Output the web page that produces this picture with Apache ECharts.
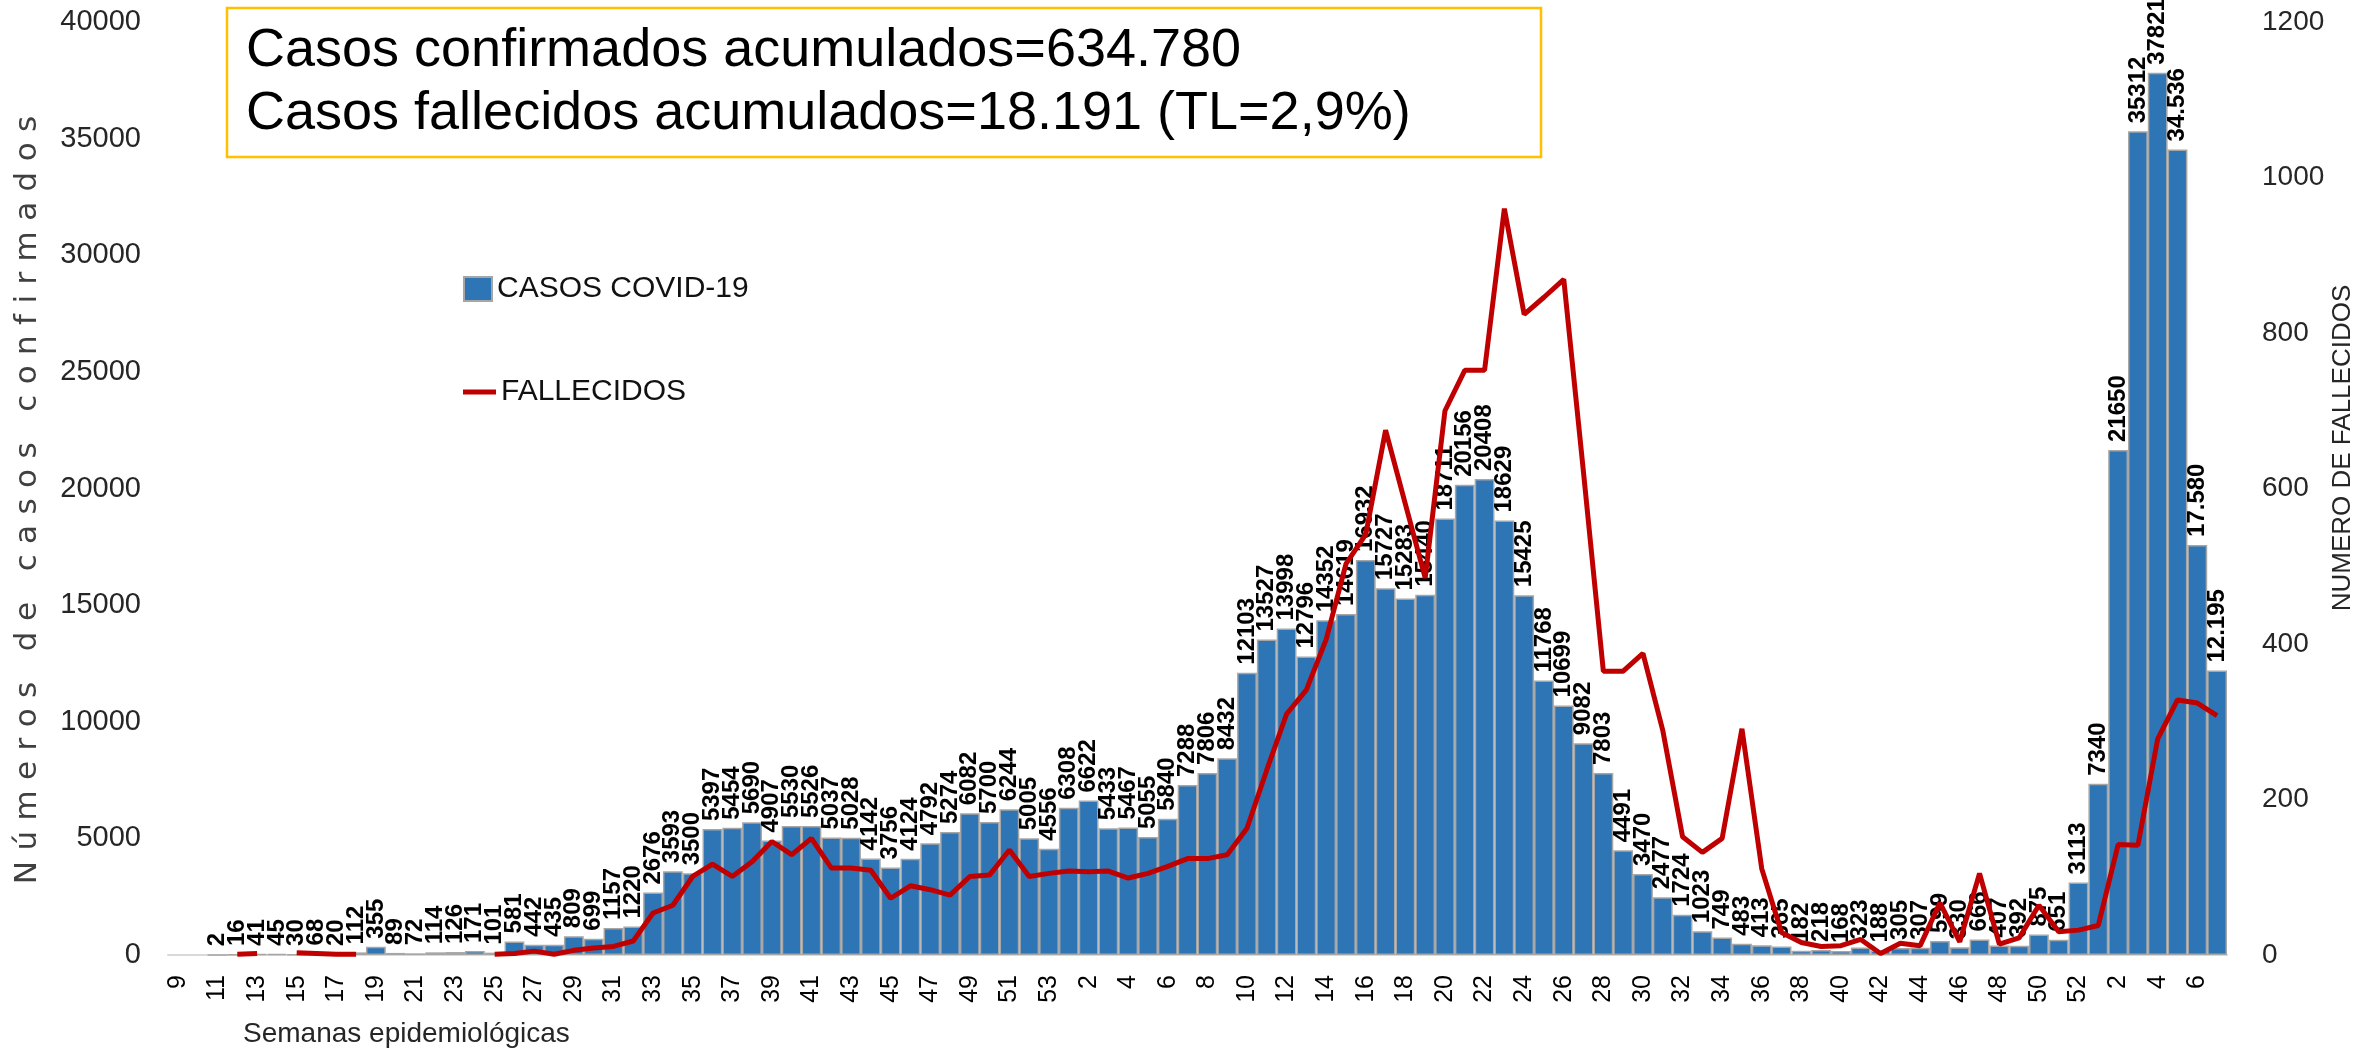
<!DOCTYPE html>
<html>
<head>
<meta charset="utf-8">
<script src="https://cdn.jsdelivr.net/npm/echarts@6/dist/echarts.min.js"></script>
<style>
  html, body { margin: 0; padding: 0; background: #fff; }
  #chart { width: 2362px; height: 1050px; }
</style>
</head>
<body>
<div id="chart"></div>
<script>
// semanas epidemiológicas: 2020 (9-53), 2021 (1-52), 2022 (1-7)
const weeks = [
  '9', '10', '11', '12', '13', '14', '15', '16', '17', '18', '19', '20', '21', '22', '23', '24', '25', '26', '27', '28',
  '29', '30', '31', '32', '33', '34', '35', '36', '37', '38', '39', '40', '41', '42', '43', '44', '45', '46', '47', '48',
  '49', '50', '51', '52', '53',
  '1', '2', '3', '4', '5', '6', '7', '8', '9', '10', '11', '12', '13', '14', '15', '16', '17', '18', '19', '20',
  '21', '22', '23', '24', '25', '26', '27', '28', '29', '30', '31', '32', '33', '34', '35', '36', '37', '38', '39', '40',
  '41', '42', '43', '44', '45', '46', '47', '48', '49', '50', '51', '52',
  '1', '2', '3', '4', '5', '6', '7'
]

const cases = [
  null, null, 2, 16, 41, 45, 30, 68, 20, 112, 355, 89, 72, 114, 126, 171, 101, 581, 442, 435,
  809, 699, 1157, 1220, 2676, 3593, 3500, 5397, 5454, 5690, 4907, 5530, 5526, 5037, 5028, 4142, 3756, 4124, 4792, 5274,
  6082, 5700, 6244, 5005, 4556,
  6308, 6622, 5433, 5467, 5055, 5840, 7288, 7806, 8432, 12103, 13527, 13998, 12796, 14352, 14619, 16932, 15727, 15283, 15440, 18711,
  20156, 20408, 18629, 15425, 11768, 10699, 9082, 7803, 4491, 3470, 2477, 1724, 1023, 749, 483, 413, 365, 182, 218, 168,
  323, 188, 305, 307, 599, 330, 666, 407, 392, 875, 651, 3113,
  7340, 21650, 35312, 37821, 34536, 17580, 12195
]

const deaths = [
  null, null, null, 1, 2, null, 3, 2, 1, 1, null, null, null, null, null, null, 1, 2, 5, 1,
  6, 9, 11, 18, 54, 64, 101, 117, 101, 120, 146, 129, 150, 112, 112, 109, 73, 89, 84, 77,
  101, 103, 135, 101, 105,
  108, 107, 108, 99, 105, 114, 124, 124, 129, 163, 238, 310, 341, 406, 503, 541, 675, 580, 485, 700,
  752, 752, 960, 824, 846, 869, 620, 365, 365, 388, 289, 152, 132, 150, 291, 111, 29, 16, 11, 12,
  20, 2, 15, 12, 67, 17, 105, 14, 22, 64, 30, 32,
  38, 142, 141, 278, 328, 324, 308
]

const summary = ['Casos confirmados acumulados=634.780', 'Casos fallecidos acumulados=18.191 (TL=2,9%)']
const dottedFrom = 101 // last labels are written with a thousands dot

const FONT = '"Liberation Sans", Arial, sans-serif'
const leftName = 'Números de casos confirmados'
const leftNameRich = leftName.split('').map(c => '{s|' + c + '}').join('')

const chart = echarts.init(document.getElementById('chart'))

chart.setOption({
  animation: false,
  backgroundColor: '#fff',
  textStyle: { fontFamily: FONT },
  grid: { left: 168, right: 135, top: 22, bottom: 95 },
  legend: [
    {
      left: 458, top: 269, itemWidth: 28, itemHeight: 24,
      textStyle: { fontSize: 30, color: '#111', fontFamily: FONT },
      data: [{ name: 'CASOS COVID-19', icon: 'rect' }]
    },
    {
      left: 458, top: 372, itemWidth: 33, itemHeight: 5,
      textStyle: { fontSize: 30, color: '#111', fontFamily: FONT },
      data: [{ name: 'FALLECIDOS', icon: 'rect' }]
    }
  ],
  xAxis: {
    type: 'category', data: weeks,
    axisLine: { lineStyle: { color: '#D9D9D9', width: 2 } },
    axisTick: { show: false },
    axisLabel: { interval: 1, rotate: 90, fontSize: 25, color: '#000', margin: 20 }
  },
  yAxis: [
    {
      type: 'value', min: 0, max: 40000, interval: 5000,
      splitLine: { show: false }, axisLine: { show: false }, axisTick: { show: false },
      axisLabel: { fontSize: 29, color: '#262626', margin: 27, formatter: v => String(v) }
    },
    {
      type: 'value', min: 0, max: 1200, interval: 200, position: 'right',
      splitLine: { show: false }, axisLine: { show: false }, axisTick: { show: false },
      axisLabel: { fontSize: 28, color: '#262626', margin: 35, formatter: v => String(v) }
    }
  ],
  series: [
    {
      name: 'CASOS COVID-19', type: 'bar', data: cases, barCategoryGap: '0%',
      itemStyle: { color: '#2E75B6', borderColor: '#A6A6A6', borderWidth: 1.5 },
      label: {
        show: true, position: 'top', rotate: 90, align: 'left', verticalAlign: 'middle',
        distance: 8, fontSize: 24, fontWeight: 'bold', color: '#000', fontFamily: FONT,
        formatter: p => p.dataIndex >= dottedFrom
          ? String(p.value).replace(/\B(?=(\d{3})+(?!\d))/g, '.')
          : String(p.value)
      }
    },
    {
      name: 'FALLECIDOS', type: 'line', yAxisIndex: 1, data: deaths,
      symbol: 'none', lineStyle: { color: '#C00000', width: 5 }, itemStyle: { color: '#C00000' }
    }
  ],
  graphic: [
    {
      type: 'rect', shape: { x: 227, y: 8, width: 1314, height: 149 },
      style: { fill: 'none', stroke: '#FFC000', lineWidth: 2.5 }, z: 10
    },
    {
      type: 'text', x: 246, y: 51, z: 10,
      style: { text: summary[0], fontSize: 54, fontFamily: FONT, fill: '#000', verticalAlign: 'middle' }
    },
    {
      type: 'text', x: 246, y: 114, z: 10,
      style: { text: summary[1], fontSize: 54, fontFamily: FONT, fill: '#000', verticalAlign: 'middle' }
    },
    {
      type: 'text', x: 243, y: 1034,
      style: { text: 'Semanas epidemiológicas', fontSize: 28, fontFamily: FONT, fill: '#262626', verticalAlign: 'middle' }
    },
    {
      type: 'text', x: 28, y: 500, rotation: Math.PI / 2,
      style: {
        text: leftNameRich, align: 'center', verticalAlign: 'middle',
        rich: { s: { fontSize: 31, fontFamily: '"DejaVu Sans", sans-serif', fill: '#404040', padding: [0, 5.2] } }
      }
    },
    {
      type: 'text', x: 2343, y: 448, rotation: Math.PI / 2,
      style: { text: 'NUMERO DE FALLECIDOS', fontSize: 26, fontFamily: FONT, fill: '#262626', align: 'center', verticalAlign: 'middle' }
    }
  ]
})
</script>
</body>
</html>
